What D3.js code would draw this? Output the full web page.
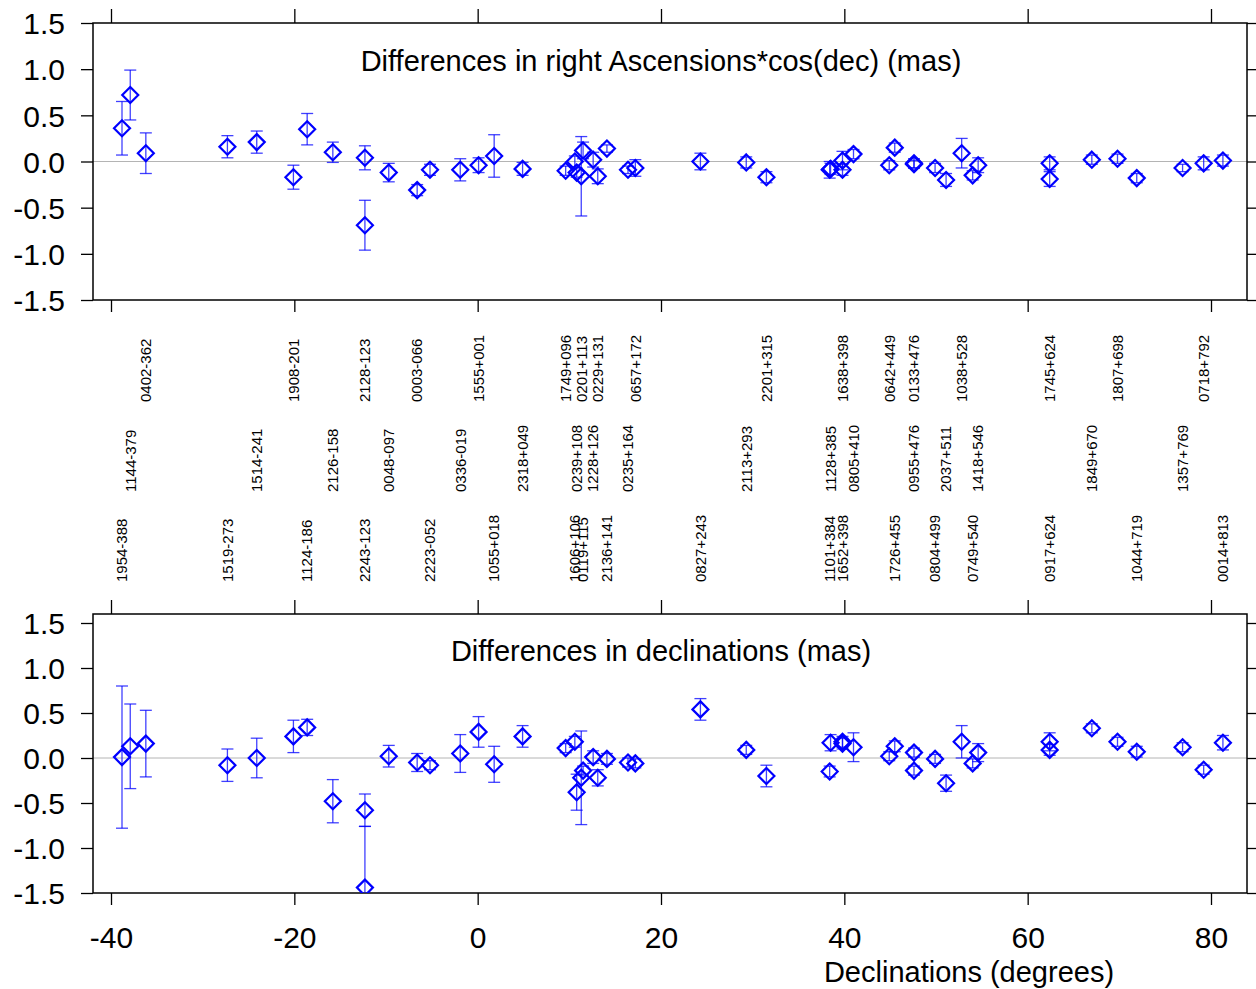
<!DOCTYPE html>
<html><head><meta charset="utf-8">
<script src="https://cdn.jsdelivr.net/npm/d3@7"></script>
<style>body{margin:0;background:#fff}svg{display:block}text{font-family:"Liberation Sans",Arial,sans-serif}</style>
</head><body>
<svg id="c" width="1256" height="989"></svg>
<script>
const sources = ["1954-388","1144-379","0402-362","1519-273","1514-241","1908-201","1124-186","2126-158","2128-123","2243-123","0048-097","0003-066","2223-052","0336-019","1555+001","1055+018","2318+049","1749+096","1606+106","0239+108","0201+113","0119+115","1228+126","0229+131","2136+141","0235+164","0657+172","0827+243","2113+293","2201+315","1101+384","1128+385","1638+398","1652+398","0805+410","0642+449","1726+455","0955+476","0133+476","0804+499","2037+511","1038+528","0749+540","1418+546","1745+624","0917+624","1849+670","1807+698","1044+719","1357+769","0718+792","0014+813"];
const declinations = [-38.8,-37.9,-36.2,-27.3,-24.1,-20.1,-18.6,-15.8,-12.3,-12.3,-9.7,-6.6,-5.2,-1.9,0.1,1.8,4.9,9.6,10.6,10.8,11.3,11.5,12.6,13.1,14.1,16.4,17.2,24.3,29.3,31.5,38.4,38.5,39.8,39.8,41.0,44.9,45.5,47.6,47.6,49.9,51.1,52.8,54.0,54.6,62.4,62.4,67.0,69.8,71.9,76.9,79.2,81.3];
const raDiff = [0.36,0.72,0.09,0.16,0.21,-0.17,0.35,0.10,0.04,-0.69,-0.12,-0.31,-0.09,-0.09,-0.04,0.06,-0.08,-0.10,0.00,-0.12,-0.16,0.12,0.02,-0.16,0.14,-0.09,-0.07,0.00,-0.01,-0.17,-0.09,-0.08,0.01,-0.09,0.08,-0.04,0.15,-0.02,-0.03,-0.07,-0.20,0.09,-0.15,-0.04,-0.02,-0.19,0.02,0.03,-0.18,-0.07,-0.02,0.01];
const raErr = [0.29,0.27,0.22,0.12,0.12,0.13,0.17,0.11,0.13,0.27,0.10,0.06,0.06,0.12,0.08,0.23,0.07,0.05,0.06,0.05,0.43,0.09,0.08,0.08,0.04,0.04,0.09,0.09,0.06,0.06,0.09,0.06,0.10,0.06,0.05,0.05,0.05,0.05,0.04,0.05,0.07,0.16,0.05,0.08,0.07,0.08,0.05,0.05,0.05,0.04,0.07,0.06];
const decDiff = [0.01,0.13,0.16,-0.08,0.00,0.24,0.34,-0.48,-0.58,-1.44,0.02,-0.05,-0.08,0.05,0.29,-0.07,0.24,0.11,0.18,-0.38,-0.22,-0.14,0.01,-0.22,-0.01,-0.05,-0.06,0.54,0.09,-0.20,-0.15,0.17,0.18,0.16,0.12,0.02,0.13,0.06,-0.14,-0.01,-0.28,0.18,-0.06,0.06,0.18,0.09,0.33,0.18,0.07,0.12,-0.13,0.17];
const decErr = [0.79,0.47,0.37,0.18,0.22,0.18,0.09,0.24,0.18,0.68,0.12,0.10,0.05,0.21,0.17,0.20,0.12,0.05,0.06,0.20,0.52,0.05,0.07,0.09,0.06,0.05,0.05,0.12,0.05,0.12,0.06,0.09,0.06,0.06,0.16,0.05,0.06,0.05,0.05,0.05,0.09,0.18,0.05,0.10,0.10,0.06,0.05,0.05,0.06,0.05,0.05,0.08];
const xTicks = [-40,-20,0,20,40,60,80];
const yTicks = [-1.5,-1.0,-0.5,0.0,0.5,1.0,1.5];
const titleRA = "Differences in right Ascensions*cos(dec) (mas)";
const titleDec = "Differences in declinations (mas)";
const xLabel = "Declinations (degrees)";

const svg = d3.select("#c");
const L = 93, R = 1247;
const x = d3.scaleLinear().domain([-40,80]).range([111,1211]);
const blue = "#0000ff";
const fmtY = v => d3.format(".1f")(v).replace("\u2212", "-");
const fmtX = v => d3.format("d")(v).replace("\u2212", "-");

function panel(top, bottom, y, diff, err, title, titleY, id, lastPanel){
  const g = svg.append("g");
  g.append("clipPath").attr("id", id).append("rect")
    .attr("x", L).attr("y", top).attr("width", R-L).attr("height", bottom-top);
  g.append("line").attr("x1", L).attr("x2", R).attr("y1", y(0)).attr("y2", y(0))
    .attr("stroke", "#b4b4b4").attr("stroke-width", 1);
  g.append("rect").attr("x", L).attr("y", top).attr("width", R-L).attr("height", bottom-top)
    .attr("fill", "none").attr("stroke", "#000").attr("stroke-width", 1.5);
  const yl = g.append("g").attr("transform", `translate(${L},0)`)
    .call(d3.axisLeft(y).tickValues(yTicks).tickSize(12).tickPadding(16).tickFormat(fmtY));
  yl.select(".domain").remove();
  yl.selectAll("line").attr("stroke-width", 1.3);
  yl.selectAll("text").attr("font-size", 30).attr("fill", "#000")
    .attr("font-family", '"Liberation Sans",Arial,sans-serif').attr("dy", "0.36em");
  const yr = g.append("g").attr("transform", `translate(${R},0)`)
    .call(d3.axisRight(y).tickValues(yTicks).tickSize(10).tickFormat(""));
  yr.select(".domain").remove();
  yr.selectAll("line").attr("stroke-width", 1.3);
  const xt = g.append("g").attr("transform", `translate(0,${top})`)
    .call(d3.axisTop(x).tickValues(xTicks).tickSize(14).tickFormat(""));
  xt.select(".domain").remove();
  xt.selectAll("line").attr("stroke-width", 1.3);
  const xb = g.append("g").attr("transform", `translate(0,${bottom})`)
    .call(d3.axisBottom(x).tickValues(xTicks).tickSize(12).tickPadding(22).tickFormat(lastPanel ? fmtX : ""));
  xb.select(".domain").remove();
  xb.selectAll("line").attr("stroke-width", 1.3);
  if (lastPanel) {
    xb.selectAll("text").attr("font-size", 30).attr("fill", "#000")
      .attr("font-family", '"Liberation Sans",Arial,sans-serif');
  }
  g.append("text").attr("x", 661).attr("y", titleY).attr("text-anchor", "middle")
    .attr("font-size", 29).text(title);
  const d = g.append("g").attr("clip-path", `url(#${id})`);
  const idx = d3.range(sources.length);
  d.selectAll("line.eb").data(idx).join("line").attr("class","eb")
    .attr("x1", i => x(declinations[i])).attr("x2", i => x(declinations[i]))
    .attr("y1", i => y(diff[i]+err[i])).attr("y2", i => y(diff[i]-err[i]))
    .attr("stroke", blue).attr("stroke-opacity", 0.75).attr("stroke-width", 1.3);
  ["u","d"].forEach(s => {
    d.selectAll("line.cap"+s).data(idx).join("line").attr("class","cap"+s)
      .attr("x1", i => x(declinations[i])-6).attr("x2", i => x(declinations[i])+6)
      .attr("y1", i => y(s==="u" ? diff[i]+err[i] : diff[i]-err[i]))
      .attr("y2", i => y(s==="u" ? diff[i]+err[i] : diff[i]-err[i]))
      .attr("stroke", blue).attr("stroke-opacity", 0.75).attr("stroke-width", 1.3);
  });
  const r = 8;
  d.selectAll("path.dm").data(idx).join("path").attr("class","dm")
    .attr("d", i => {const cx = x(declinations[i]), cy = y(diff[i]);
      return `M${cx},${cy-r}L${cx+r},${cy}L${cx},${cy+r}L${cx-r},${cy}Z`;})
    .attr("fill", "none").attr("stroke", blue).attr("stroke-width", 2.2);
}

const yTop = d3.scaleLinear().domain([-1.5,1.5]).range([300,23]);
const yBot = d3.scaleLinear().domain([-1.5,1.5]).range([893,623]);
panel(23, 300, yTop, raDiff, raErr, titleRA, 71, "clipTop", false);
panel(614, 893, yBot, decDiff, decErr, titleDec, 661, "clipBot", true);

const rowBase = [582, 492, 402];
svg.append("g").selectAll("text").data(d3.range(sources.length)).join("text")
  .attr("transform", i => `translate(${x(declinations[i])},${rowBase[i%3]}) rotate(-90)`)
  .attr("dy", "0.35em").attr("font-size", 15).attr("text-anchor", "start")
  .text(i => sources[i]);

svg.append("text").attr("x", 969).attr("y", 982).attr("text-anchor", "middle")
  .attr("font-size", 29).text(xLabel);
</script>
</body></html>
